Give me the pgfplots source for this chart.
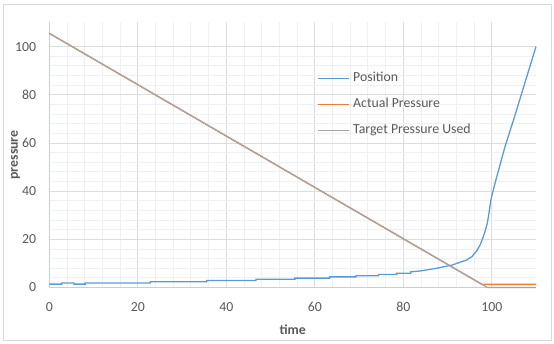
\documentclass[border=0pt]{standalone}
\usepackage{pgfplots}
\pgfplotsset{compat=1.18}
\usepackage{fontspec}
\setmainfont{Carlito}
\definecolor{txt}{HTML}{595959}
\definecolor{gridmaj}{HTML}{DADDE3}
\definecolor{gridmin}{HTML}{EEF0F3}
\definecolor{axisc}{HTML}{C9CDD4}
\definecolor{frame}{HTML}{D9D9D9}
\definecolor{cblue}{HTML}{5B9BD5}
\definecolor{corange}{HTML}{ED7D31}
\definecolor{cgray}{HTML}{A5A5A5}
\begin{document}
\fontsize{13.8}{16}\selectfont
\begin{tikzpicture}
\useasboundingbox (-49.3pt,-56.5pt) rectangle (504.7pt,287.5pt);
\draw[frame, line width=0.8pt] (-46.3pt,-53pt) rectangle (501.7pt,283.5pt);
\begin{axis}[
  at={(0pt,0pt)}, anchor=south west,
  width=486.7pt, height=265pt, scale only axis,
  xmin=0, xmax=110, ymin=0, ymax=110,
  xtick={0,20,...,100}, ytick={0,20,...,100},
  minor x tick num=4, minor y tick num=4,
  grid=both,
  major grid style={gridmaj, line width=0.8pt},
  minor grid style={gridmin, line width=0.8pt},
  axis lines=left,
  axis line style={-, axisc, line width=0.9pt},
  major tick length=0pt, minor tick length=0pt,
  /pgf/number format/assume math mode=true,
  tick label style={color=txt, font=\fontsize{13.8}{16}\selectfont},
  xticklabel style={anchor=north, inner sep=0pt, yshift=-14.8pt},
  yticklabel style={anchor=east, inner sep=0pt, xshift=-13pt},
  xlabel={time},
  xlabel style={font=\fontsize{13.8}{16}\selectfont\bfseries, color=txt, at={([yshift=-42pt]axis description cs:0.5,0)}, anchor=center},
  ylabel={pressure},
  ylabel style={font=\fontsize{13.8}{16}\selectfont\bfseries, color=txt, at={([xshift=-33.8pt]axis description cs:0,0.5)}, anchor=center},
  clip=false,
  legend cell align=left,
  legend style={at={(rel axis cs:0.5507,0.8125)}, anchor=north west, draw=none, fill=none, inner sep=0pt,
    font=\fontsize{13.8}{16}\selectfont, text=txt,
    nodes={inner sep=0pt, text height=9pt, text depth=3pt},
    row sep=14.2pt, column sep=3.4pt},
  legend image code/.code={\draw[#1] (0pt,0pt) -- (31pt,0pt);},
]
\addplot[cblue, line width=1.3pt] coordinates {
(0,1.4)(2.8,1.4)(2.8,1.9)(5.6,1.9)(5.6,1.4)(8.1,1.4)(8.1,1.9)(22.8,1.9)(22.8,2.4)(35.6,2.4)(35.6,2.9)(46.7,2.9)(46.7,3.4)(55.5,3.4)(55.5,3.9)(63.4,3.9)(63.4,4.4)(69.3,4.4)(69.3,4.9)(74.4,4.9)(74.4,5.4)(78.5,5.4)(78.5,5.9)(81.7,5.9)(81.7,6.5)(84,6.9)(87.6,8.0)(91,9.3)(94.3,11.4)(95.5,12.8)(96.6,15.2)(97.4,17.8)(98.1,21.1)(98.6,24)(99,26.7)(99.3,30)(99.5,32.5)(99.8,36.3)(100.2,39.5)(100.7,43)(103,58.5)(105,70)(107,82)(109,94)(110,100)
};
\addlegendentry{Position}
\addplot[corange, line width=1.3pt] coordinates {(0,105.5)(97.8,1.3)(110,1.3)};
\addlegendentry{Actual Pressure}
\addplot[cgray, line width=1.3pt] coordinates {(0,105.5)(99,0)(110,0)};
\addlegendentry{Target Pressure Used}
\end{axis}
\end{tikzpicture}
\end{document}
